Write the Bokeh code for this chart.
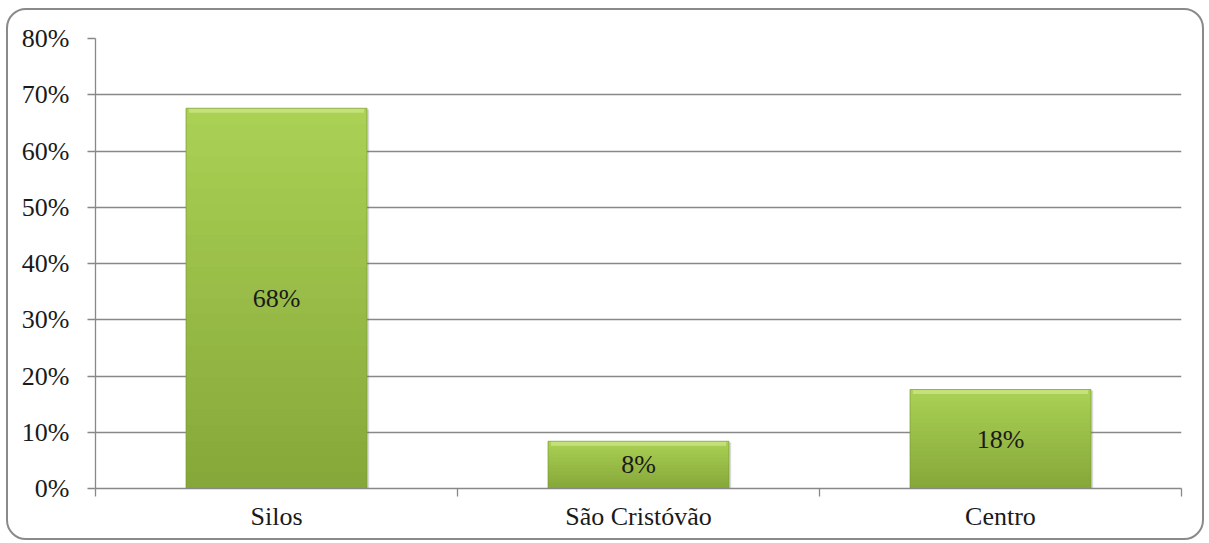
from bokeh.plotting import figure
from bokeh.models import (Range1d, FixedTicker, NumeralTickFormatter, InlineStyleSheet,
                          ColumnDataSource)
from bokeh.core.properties import value
from bokeh.embed import file_html
from bokeh.resources import INLINE

categories = ["Silos", "São Cristóvão", "Centro"]
shares = [0.676, 0.084, 0.176]
bar_labels = ["68%", "8%", "18%"]
y_ticks = [0.0, 0.1, 0.2, 0.3, 0.4, 0.5, 0.6, 0.7, 0.8]

FONT = "'Liberation Serif', 'Times New Roman', serif"
FS = "26px"
W, H = 1209, 543

p = figure(width=W, height=H, output_backend="svg", toolbar_location=None,
           x_range=Range1d(0, len(categories)), y_range=Range1d(0, 0.8),
           min_border_left=95, min_border_right=28, min_border_top=38, min_border_bottom=55)
p.outline_line_color = None
p.background_fill_color = "white"
p.border_fill_color = "white"

# y axis
p.yaxis.ticker = FixedTicker(ticks=y_ticks)
p.yaxis.formatter = NumeralTickFormatter(format="0%")
p.yaxis.axis_line_color = "#888888"
p.yaxis.axis_line_width = 1.3
p.yaxis.major_tick_line_color = "#888888"
p.yaxis.major_tick_line_width = 1.3
p.yaxis.major_tick_out = 8
p.yaxis.major_tick_in = 0
p.yaxis.minor_tick_line_color = None
p.yaxis.major_label_standoff = 18
p.yaxis.major_label_text_font = FONT
p.yaxis.major_label_text_font_size = FS
p.yaxis.major_label_text_color = "#1a1a1a"

# x axis: labels at centres, ticks at category boundaries
centers = [i + 0.5 for i in range(len(categories))]
bounds = [float(i) for i in range(len(categories) + 1)]
p.xaxis.ticker = FixedTicker(ticks=centers, minor_ticks=bounds)
p.xaxis.major_label_overrides = {c: name for c, name in zip(centers, categories)}
p.xaxis.axis_line_color = "#888888"
p.xaxis.axis_line_width = 1.3
p.xaxis.major_tick_line_color = None
p.xaxis.minor_tick_line_color = "#888888"
p.xaxis.minor_tick_line_width = 1.3
p.xaxis.minor_tick_out = 8
p.xaxis.minor_tick_in = 0
p.xaxis.major_label_standoff = 5
p.xaxis.major_label_text_font = FONT
p.xaxis.major_label_text_font_size = FS
p.xaxis.major_label_text_color = "#1a1a1a"

p.xgrid.grid_line_color = None
p.ygrid.ticker = FixedTicker(ticks=y_ticks)
p.ygrid.grid_line_color = "#888888"
p.ygrid.grid_line_width = 1.3

# bars with a vertical gradient (light top -> darker bottom)
half = 0.25
lefts = [c - half for c in centers]
rights = [c + half for c in centers]

# soft shadow
p.quad(left=[l + 0.006 for l in lefts], right=[r + 0.006 for r in rights],
       bottom=[-0.004] * len(shares), top=[s - 0.002 for s in shares],
       fill_color="#6b6b6b", fill_alpha=0.25, line_color=None)

top_col = (170, 208, 84)
bot_col = (134, 168, 58)
N = 24
for k in range(N):
    t = k / (N - 1)
    col = tuple(int(round(a + (b - a) * t)) for a, b in zip(top_col, bot_col))
    frac = 1 - k / N
    p.quad(left=lefts, right=rights, bottom=[0] * len(shares),
           top=[s * frac for s in shares],
           fill_color="#%02x%02x%02x" % col, line_color=None)

# top bevel highlight
p.quad(left=[l + 0.008 for l in lefts], right=[r - 0.008 for r in rights],
       bottom=[s - 0.008 for s in shares], top=shares,
       fill_color="#c8e27e", fill_alpha=0.9, line_color=None)
# outline edges
p.quad(left=lefts, right=rights, bottom=[0] * len(shares), top=shares,
       fill_color=None, line_color="#7c9a34", line_alpha=0.7, line_width=1)

src = ColumnDataSource(dict(x=centers, y=[s / 2 for s in shares], t=bar_labels))
p.text(x="x", y="y", text="t", source=src, text_align="center", text_baseline="middle",
       text_font=value(FONT), text_font_size=FS, text_color="#1a1a1a")

# rounded chart border drawn as an overlay on the figure element
p.stylesheets = [InlineStyleSheet(css="""
:host { position: relative; }
:host::after {
  content: "";
  position: absolute;
  left: 6px; top: 8px; right: 5px; bottom: 3px;
  border: 2px solid #8a8a8a;
  border-radius: 20px;
  pointer-events: none;
  z-index: 100;
}
""")]

open("out.html", "w").write(file_html(p, INLINE))
